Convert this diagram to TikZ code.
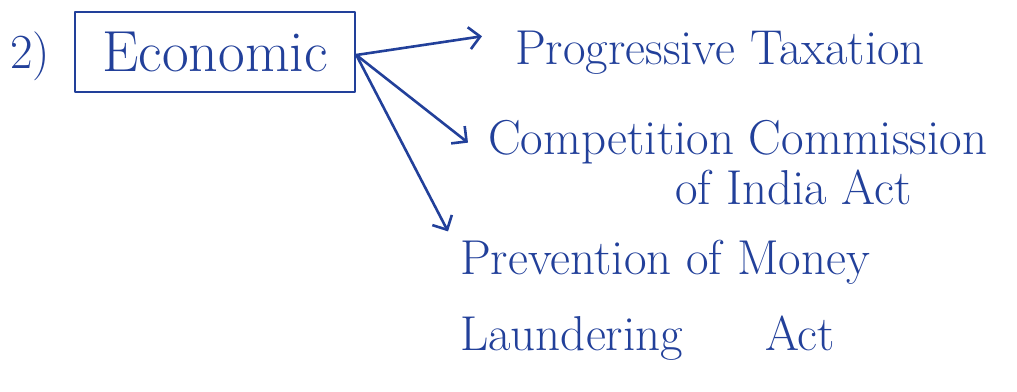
\documentclass[tikz,border=0pt]{standalone}
\usepackage{xcolor}
\usepackage{tikz}
\usetikzlibrary{calc,arrows.meta}
\definecolor{penblue}{HTML}{22409A}
\tikzset{
  every picture/.append style={font=\fontsize{49}{56}\selectfont},
  inkline/.style={penblue, line width=2.6pt, line cap=round, line join=round},
  inkarrow/.style={inkline, -{Straight Barb[length=11pt,width=22pt]}},
  inktext/.style={penblue, inner sep=0pt, anchor=base west},
}

\begin{document}
\begin{tikzpicture}[x=1pt,y=-1pt]
    \useasboundingbox (0,0) rectangle (1017,391);
    \node[inktext] (num) at (10,68) {2)};
    % the boxed heading
    \node[inkline, draw, minimum width=280pt, minimum height=80pt,
          font=\fontsize{58}{64}\selectfont] (econ) at (215,52) {Economic};
    \node[inktext] (tax) at (515,64) {Progressive Taxation};
    \node[inktext] (cci) at (488,154) {Competition Commission};
    \node[inktext] (ccib) at (675,204) {of India Act};
    \node[inktext] (pml) at (460,274) {Prevention of Money};
    \node[inktext] (pmlb) at (460,350) {Laundering\hspace{82pt}Act};
    % arrows fan out from the right edge of the box
    \draw[inkarrow] ([yshift=-3pt]econ.east) -- ([xshift=-33pt,yshift=16pt]tax.west);
    \draw[inkarrow] ([yshift=-3pt]econ.east) -- ([xshift=-20pt,yshift=-1pt]cci.west);
    \draw[inkarrow] ([yshift=-3pt]econ.east) -- ([xshift=-12pt,yshift=8pt]pml.north west);
\end{tikzpicture}
\end{document}
